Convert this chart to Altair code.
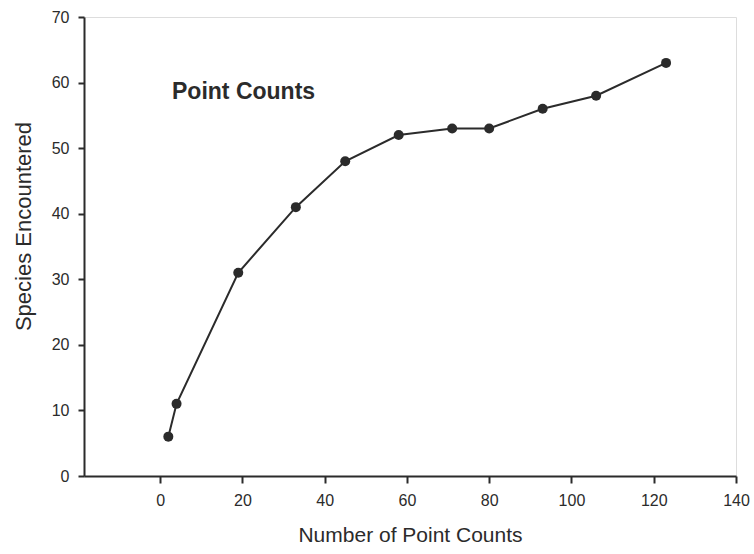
import altair as alt
import pandas as pd

counts = [2, 4, 19, 33, 45, 58, 71, 80, 93, 106, 123]
species = [6, 11, 31, 41, 48, 52, 53, 53, 56, 58, 63]
x_ticks = [0, 20, 40, 60, 80, 100, 120, 140]
y_ticks = [0, 10, 20, 30, 40, 50, 60, 70]
annotation = "Point Counts"

df = pd.DataFrame({"n": counts, "s": species})
ink = "#2b2b2b"
font = "Liberation Sans"

common = dict(grid=False, domainColor=ink, tickColor=ink, domainWidth=2, tickWidth=2,
              labelColor=ink, titleColor=ink, labelFont=font, titleFont=font,
              labelFontSize=16, titleFontWeight="normal", labelFlush=False)

x = alt.X("n:Q", scale=alt.Scale(domain=[-18.5, 140], nice=False, zero=False),
          axis=alt.Axis(title="Number of Point Counts", values=x_ticks,
                        tickSize=7, labelPadding=9, titlePadding=16, titleFontSize=21,
                        **common))
y = alt.Y("s:Q", scale=alt.Scale(domain=[0, 70], nice=False),
          axis=alt.Axis(title="Species Encountered", values=y_ticks,
                        tickSize=6, labelPadding=9, titlePadding=16, titleFontSize=22,
                        titleY=209, **common))

base = alt.Chart(df)
line = base.mark_line(color=ink, strokeWidth=2).encode(x=x, y=y)
pts = base.mark_circle(color=ink, opacity=1, size=100).encode(x=x, y=y)
label = alt.Chart(pd.DataFrame({"n": [2.9], "s": [57.5], "t": [annotation]})).mark_text(
    align="left", baseline="alphabetic", font=font, fontSize=23, fontWeight="bold", color=ink
).encode(x=x, y=y, text="t:N")

chart = (line + pts + label).properties(
    width=652, height=459,
    autosize=alt.AutoSizeParams(type="none"),
    padding={"left": 84, "top": 17, "right": 18, "bottom": 78},
).configure_view(stroke=None).configure(background="white")

chart.save("out.html", embed_options={"renderer": "svg", "actions": False})
